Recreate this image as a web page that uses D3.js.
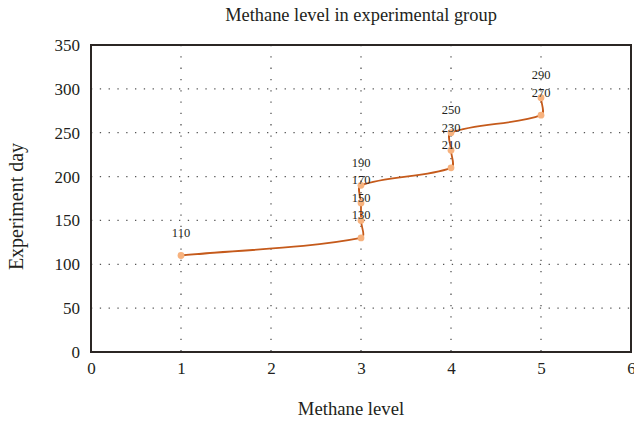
<!DOCTYPE html>
<html>
<head>
<meta charset="utf-8">
<script src="https://cdn.jsdelivr.net/npm/d3@7"></script>
<style>
  body { margin: 0; background: #fff; }
</style>
</head>
<body>
<svg id="chart" width="634" height="421"></svg>
<script>
// values
const methaneLevel = [1, 3, 3, 3, 3, 4, 4, 4, 5, 5];
const experimentDay = [110, 130, 150, 170, 190, 210, 230, 250, 270, 290];
const xTicks = [0, 1, 2, 3, 4, 5, 6];
const yTicks = [0, 50, 100, 150, 200, 250, 300, 350];

const serif = '"Liberation Serif", "DejaVu Serif", serif';
const ink = '#231f20';

const svg = d3.select('#chart');
const plotLeft = 91, plotRight = 631, plotTop = 45, plotBottom = 352;

const x = d3.scaleLinear().domain([0, 6]).range([plotLeft, plotRight]);
const y = d3.scaleLinear().domain([0, 350]).range([plotBottom, plotTop]);

// spreadsheet-style smoothing: tangents scaled by neighbouring segment lengths
function smoothCurve(context) {
    let pts = [];
    return {
        areaStart() {}, areaEnd() {},
        lineStart() { pts = []; },
        point(px, py) { pts.push([px, py]); },
        lineEnd() {
            if (!pts.length) return;
            const dist = (a, b) => Math.hypot(b[0] - a[0], b[1] - a[1]);
            context.moveTo(pts[0][0], pts[0][1]);
            for (let i = 0; i < pts.length - 1; i++) {
                const p0 = pts[Math.max(i - 1, 0)], p1 = pts[i], p2 = pts[i + 1], p3 = pts[Math.min(i + 2, pts.length - 1)];
                const d01 = dist(p0, p1), d12 = dist(p1, p2), d23 = dist(p2, p3);
                const f1 = d12 / (d01 + d12) / 3;
                const f2 = d12 / (d12 + d23) / 3;
                context.bezierCurveTo(
                    p1[0] + (p2[0] - p0[0]) * f1, p1[1] + (p2[1] - p0[1]) * f1,
                    p2[0] - (p3[0] - p1[0]) * f2, p2[1] - (p3[1] - p1[1]) * f2,
                    p2[0], p2[1]);
            }
        }
    };
}

// dotted grid
svg.append('g')
    .selectAll('line')
    .data(yTicks.filter(d => d > 0 && d < 350))
    .join('line')
    .attr('x1', plotLeft).attr('x2', plotRight)
    .attr('y1', d => y(d)).attr('y2', d => y(d))
    .attr('stroke', '#555')
    .attr('stroke-width', 1.3)
    .attr('stroke-dasharray', '1.3,7.5');

svg.append('g')
    .selectAll('line')
    .data(xTicks.filter(d => d > 0 && d < 6))
    .join('line')
    .attr('x1', d => x(d)).attr('x2', d => x(d))
    .attr('y1', plotTop).attr('y2', plotBottom)
    .attr('stroke', '#555')
    .attr('stroke-width', 1.3)
    .attr('stroke-dasharray', '1.3,10');

// frame
svg.append('rect')
    .attr('x', plotLeft).attr('y', plotTop)
    .attr('width', plotRight - plotLeft).attr('height', plotBottom - plotTop)
    .attr('fill', 'none')
    .attr('stroke', '#2b2624')
    .attr('stroke-width', 2);

// axes (labels only, frame drawn above)
const xAxis = svg.append('g')
    .attr('transform', `translate(0,${plotBottom})`)
    .call(d3.axisBottom(x).tickValues(xTicks).tickFormat(d3.format('d')).tickSize(0).tickPadding(10));
const yAxis = svg.append('g')
    .attr('transform', `translate(${plotLeft},0)`)
    .call(d3.axisLeft(y).tickValues(yTicks).tickFormat(d3.format('d')).tickSize(0).tickPadding(11));
[xAxis, yAxis].forEach(a => {
    a.select('.domain').remove();
    a.selectAll('text')
        .style('font-family', serif)
        .style('font-size', '17px')
        .attr('fill', ink);
});

// series
const pts = methaneLevel.map((m, i) => ({ m: m, d: experimentDay[i] }));

svg.append('path')
    .datum(pts)
    .attr('fill', 'none')
    .attr('stroke', '#c55a1b')
    .attr('stroke-width', 1.8)
    .attr('d', d3.line().x(p => x(p.m)).y(p => y(p.d)).curve(smoothCurve));

svg.append('g')
    .selectAll('circle')
    .data(pts)
    .join('circle')
    .attr('cx', p => x(p.m))
    .attr('cy', p => y(p.d))
    .attr('r', 3.4)
    .attr('fill', '#f7b27e');

svg.append('g')
    .selectAll('text')
    .data(pts)
    .join('text')
    .attr('x', p => x(p.m))
    .attr('y', p => y(p.d) - 18.5)
    .attr('text-anchor', 'middle')
    .style('font-family', serif)
    .style('font-size', '12.5px')
    .attr('fill', ink)
    .text(p => p.d);

// titles
svg.append('text')
    .attr('x', (plotLeft + plotRight) / 2).attr('y', 21)
    .attr('text-anchor', 'middle')
    .style('font-family', serif)
    .style('font-size', '18.4px')
    .attr('fill', ink)
    .text('Methane level in experimental group');

svg.append('text')
    .attr('x', 351).attr('y', 415)
    .attr('text-anchor', 'middle')
    .style('font-family', serif)
    .style('font-size', '18.7px')
    .attr('fill', ink)
    .text('Methane level');

svg.append('text')
    .attr('transform', `translate(23,${(plotTop + plotBottom) / 2 + 8}) rotate(-90)`)
    .attr('text-anchor', 'middle')
    .style('font-family', serif)
    .style('font-size', '20px')
    .attr('fill', ink)
    .text('Experiment day');
</script>
</body>
</html>
